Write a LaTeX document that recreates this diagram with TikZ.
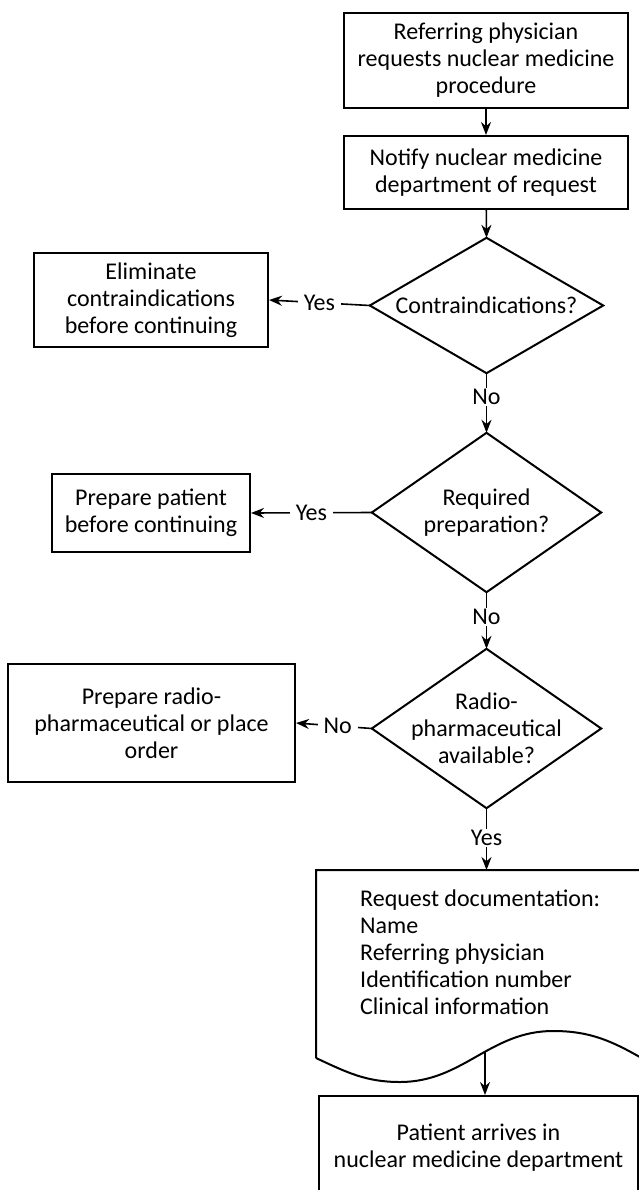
\documentclass[tikz,border=0pt]{standalone}
\usepackage{fontspec}
\setmainfont{Carlito}
\usepackage{tikz}
\usetikzlibrary{arrows.meta}

\newcommand\flowfont{\fontsize{24}{27}\selectfont}

\tikzset{
  box/.style={draw, line width=2pt, align=center, inner sep=0pt, font=\flowfont},
  decision/.style={align=center, inner sep=0pt, font=\flowfont},
  answer/.style={fill=white, inner xsep=6pt, inner ysep=1pt, font=\flowfont},
  flow/.style={line width=1.6pt, -{Stealth[length=13pt,width=10pt]}},
}

\begin{document}
\begin{tikzpicture}[x=1pt,y=-1pt]
\useasboundingbox (0,0) rectangle (639,1190);

% main column
\node[box, minimum width=284pt, minimum height=95pt] (request) at (486,60.5)
    {Referring physician\\requests nuclear medicine\\procedure};
\node[box, minimum width=284pt, minimum height=73pt] (notify) at (486,172.5)
    {Notify nuclear medicine\\department of request};
\node[decision, minimum width=233pt, minimum height=135pt] (contra) at (486.5,305.5)
    {Contraindications?};
\node[decision, minimum width=229pt, minimum height=159pt] (prepq) at (486.5,512.5)
    {Required\\preparation?};
\node[decision, minimum width=229pt, minimum height=159pt] (avail) at (486.5,728.5)
    {Radio-\\pharmaceutical\\available?};

\foreach \d in {contra,prepq,avail}
    \draw[line width=2pt] (\d.north) -- (\d.east) -- (\d.south) -- (\d.west) -- cycle;

% side branches
\node[box, minimum width=234pt, minimum height=94pt] (elim) at (151,300)
    {Eliminate\\contraindications\\before continuing};
\node[box, minimum width=198pt, minimum height=78pt] (prep) at (151,513)
    {Prepare patient\\before continuing};
\node[box, minimum width=287pt, minimum height=118pt] (radio) at (151.5,723)
    {Prepare radio-\\pharmaceutical or place\\order};

% document sheet
\draw[line width=2pt] (316,1058) -- (316,870) -- (645,870) -- (645,1060)
    to[out=150,in=0] (553,1031) to[out=180,in=0] (400,1082) to[out=180,in=-25] (316,1058);
\node[anchor=north west, align=left, inner sep=0pt, font=\flowfont] (doc) at (360,890)
    {Request documentation:\\Name\\Referring physician\\Identification number\\Clinical information};
\coordinate (doctop) at (486.5,870);
\coordinate (docwave) at (485,1052);

\node[box, minimum width=319pt, minimum height=104pt] (arrive) at (478.5,1148)
    {Patient arrives in\\nuclear medicine department};

% connectors
\draw[flow] (request) -- (notify);
\draw[flow] (notify) -- (contra.north);
\draw[flow] (contra.west) -- node[answer]{Yes} (elim.east);
\draw[flow] (contra.south) -- node[answer, pos=0.4]{No} (prepq.north);
\draw[flow] (prepq.west) -- node[answer]{Yes} (prep.east);
\draw[flow] (prepq.south) -- node[answer, pos=0.44]{No} (avail.north);
\draw[flow] (avail.west) -- node[answer, pos=0.45]{No} (radio.east);
\draw[flow] (avail.south) -- node[answer, pos=0.48]{Yes} (doctop);
\draw[flow] (docwave) -- (docwave |- arrive.north);

\end{tikzpicture}
\end{document}
